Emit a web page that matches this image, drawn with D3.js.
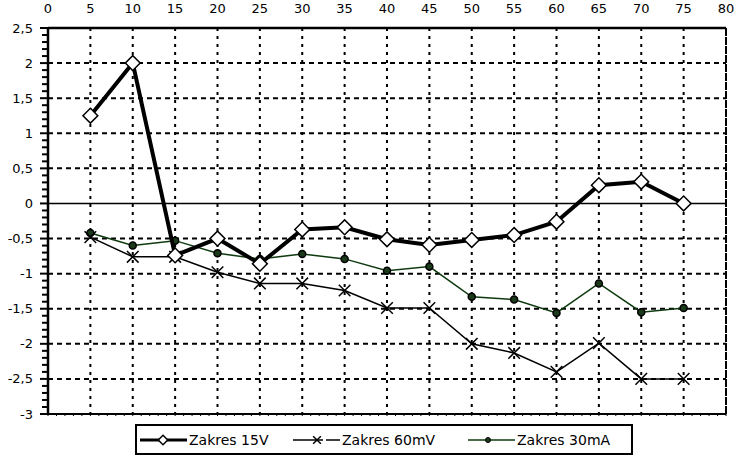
<!DOCTYPE html>
<html>
<head>
<meta charset="utf-8">
<script src="https://cdn.jsdelivr.net/npm/d3@7"></script>
<style>
  body { margin: 0; background: #fff; }
  text { font-family: "DejaVu Sans", Arial, sans-serif; }
</style>
</head>
<body>
<div id="chart"></div>
<script>
// Data
var xValues = [5, 10, 15, 20, 25, 30, 35, 40, 45, 50, 55, 60, 65, 70, 75];
var zakres15V = [1.25, 2.0, -0.74, -0.5, -0.86, -0.37, -0.34, -0.51, -0.59, -0.52, -0.45, -0.26, 0.26, 0.31, 0.0];
var zakres60mV = [-0.48, -0.76, -0.76, -0.98, -1.14, -1.14, -1.24, -1.49, -1.49, -2.0, -2.13, -2.4, -1.99, -2.5, -2.5];
var zakres30mA = [-0.42, -0.6, -0.53, -0.71, -0.79, -0.72, -0.79, -0.96, -0.9, -1.33, -1.37, -1.56, -1.14, -1.55, -1.49];
var xTicks = [0, 5, 10, 15, 20, 25, 30, 35, 40, 45, 50, 55, 60, 65, 70, 75, 80];
var yTicks = [2.5, 2, 1.5, 1, 0.5, 0, -0.5, -1, -1.5, -2, -2.5, -3];
var seriesNames = ["Zakres 15V", "Zakres 60mV", "Zakres 30mA"];

var svg = d3.select("#chart").append("svg")
  .attr("width", 737)
  .attr("height", 465);

var margin = { top: 28, right: 11, bottom: 51, left: 48 };
var width = 737 - margin.left - margin.right;
var height = 465 - margin.top - margin.bottom;

var g = svg.append("g")
  .attr("transform", "translate(" + margin.left + "," + margin.top + ")");

var x = d3.scaleLinear().domain([0, 80]).range([0, width]);
var y = d3.scaleLinear().domain([-3, 2.5]).range([height, 0]);

var fmt = function (d) { return String(d).replace(".", ","); };

// gridlines
g.selectAll(".hgrid")
  .data(yTicks.filter(function (d) { return d !== 0 && d !== 2.5 && d !== -3; }))
  .enter().append("line")
  .attr("x1", 0).attr("x2", width)
  .attr("y1", function (d) { return y(d); })
  .attr("y2", function (d) { return y(d); })
  .attr("stroke", "#000")
  .attr("stroke-width", 2)
  .attr("stroke-dasharray", "5,4");

g.selectAll(".vgrid")
  .data(xTicks.filter(function (d) { return d > 0 && d < 80; }))
  .enter().append("line")
  .attr("y1", 0).attr("y2", height)
  .attr("x1", function (d) { return x(d); })
  .attr("x2", function (d) { return x(d); })
  .attr("stroke", "#000")
  .attr("stroke-width", 2)
  .attr("stroke-dasharray", "3,5");

// zero line
g.append("line")
  .attr("x1", 0).attr("x2", width)
  .attr("y1", y(0)).attr("y2", y(0))
  .attr("stroke", "#000")
  .attr("stroke-width", 1.5);

// frame
g.append("line").attr("x1", 0).attr("x2", width).attr("y1", 0).attr("y2", 0)
  .attr("stroke", "#000").attr("stroke-width", 2.5);
g.append("line").attr("x1", width).attr("x2", width).attr("y1", 0).attr("y2", height)
  .attr("stroke", "#000").attr("stroke-width", 2).attr("stroke-dasharray", "8,1");
g.append("line").attr("x1", 0).attr("x2", width).attr("y1", height).attr("y2", height)
  .attr("stroke", "#000").attr("stroke-width", 2);

// y axis with minor ticks
var yAxis = g.append("g");
yAxis.append("line").attr("x1", 0).attr("x2", 0).attr("y1", 0).attr("y2", height)
  .attr("stroke", "#000").attr("stroke-width", 2.5);
var minor = d3.range(-30, 26).map(function (d) { return d / 10; });
yAxis.selectAll(".minor")
  .data(minor)
  .enter().append("line")
  .attr("x1", function (d, i) { return (i % 5 === 0) ? -8 : -6; })
  .attr("x2", 0)
  .attr("y1", function (d) { return y(d); })
  .attr("y2", function (d) { return y(d); })
  .attr("stroke", "#000")
  .attr("stroke-width", 2);
yAxis.selectAll(".ylab")
  .data(yTicks)
  .enter().append("text")
  .attr("x", -15)
  .attr("y", function (d) { return y(d); })
  .attr("dy", "0.35em")
  .attr("text-anchor", "end")
  .attr("font-size", "13px")
  .text(fmt);

// x axis labels on top
g.selectAll(".xlab")
  .data(xTicks)
  .enter().append("text")
  .attr("x", function (d) { return x(d); })
  .attr("y", -15)
  .attr("text-anchor", "middle")
  .attr("font-size", "13px")
  .text(function (d) { return d; });

// x minor ticks at bottom
g.selectAll(".xminor")
  .data(d3.range(0, 81))
  .enter().append("line")
  .attr("x1", function (d) { return x(d); })
  .attr("x2", function (d) { return x(d); })
  .attr("y1", height)
  .attr("y2", height + 2)
  .attr("stroke", "#000")
  .attr("stroke-width", 1);

var line = function (vals) {
  return d3.line()
    .x(function (d, i) { return x(xValues[i]); })
    .y(function (d) { return y(d); })(vals);
};

// 30mA series
g.append("path")
  .attr("d", line(zakres30mA))
  .attr("fill", "none")
  .attr("stroke", "#0f3a0f")
  .attr("stroke-width", 1.5);
g.selectAll(".c30")
  .data(zakres30mA)
  .enter().append("circle")
  .attr("cx", function (d, i) { return x(xValues[i]); })
  .attr("cy", function (d) { return y(d); })
  .attr("r", 3.5)
  .attr("fill", "#1a3a1a")
  .attr("stroke", "#000")
  .attr("stroke-width", 1.5);

// 60mV series
g.append("path")
  .attr("d", line(zakres60mV))
  .attr("fill", "none")
  .attr("stroke", "#000")
  .attr("stroke-width", 1.5);
var cross = d3.symbol().type(d3.symbolX).size(90);
g.selectAll(".c60")
  .data(zakres60mV)
  .enter().append("path")
  .attr("d", cross)
  .attr("transform", function (d, i) { return "translate(" + x(xValues[i]) + "," + y(d) + ")"; })
  .attr("fill", "none")
  .attr("stroke", "#000")
  .attr("stroke-width", 1.5);

// 15V series
g.append("path")
  .attr("d", line(zakres15V))
  .attr("fill", "none")
  .attr("stroke", "#000")
  .attr("stroke-width", 4);
var diamond = d3.symbol().type(d3.symbolSquare).size(110);
g.selectAll(".c15")
  .data(zakres15V)
  .enter().append("path")
  .attr("d", diamond)
  .attr("transform", function (d, i) { return "translate(" + x(xValues[i]) + "," + y(d) + ") rotate(45)"; })
  .attr("fill", "#fff")
  .attr("stroke", "#000")
  .attr("stroke-width", 1.5);

// legend
var legend = svg.append("g").attr("transform", "translate(136,425)");
legend.append("rect")
  .attr("width", 496).attr("height", 29)
  .attr("fill", "#fff")
  .attr("stroke", "#000")
  .attr("stroke-width", 2);

var legendX = [4, 157, 332];
var legendStroke = ["#000", "#000", "#0f3a0f"];
var legendWidth = [3, 1.5, 1.5];
seriesNames.forEach(function (name, i) {
  var lg = legend.append("g").attr("transform", "translate(" + legendX[i] + ",15)");
  lg.append("line").attr("x1", 0).attr("x2", 47).attr("y1", 0).attr("y2", 0)
    .attr("stroke", legendStroke[i]).attr("stroke-width", legendWidth[i]);
  if (i === 0) {
    lg.append("path").attr("d", d3.symbol().type(d3.symbolSquare).size(45))
      .attr("transform", "translate(23,0) rotate(45)")
      .attr("fill", "#fff").attr("stroke", "#000").attr("stroke-width", 1.5);
  } else if (i === 1) {
    lg.append("rect").attr("x", 30).attr("y", -2).attr("width", 3).attr("height", 4).attr("fill", "#fff");
    lg.append("path").attr("d", d3.symbol().type(d3.symbolX).size(40))
      .attr("transform", "translate(24,0)")
      .attr("fill", "none").attr("stroke", "#000").attr("stroke-width", 1.5);
  } else {
    lg.append("circle").attr("cx", 20).attr("cy", 0).attr("r", 2.5)
      .attr("fill", "#1a3a1a").attr("stroke", "#000").attr("stroke-width", 1);
  }
  lg.append("text")
    .attr("x", 49).attr("y", 0).attr("dy", "0.35em")
    .attr("font-size", "14px")
    .text(name);
});
</script>
</body>
</html>
